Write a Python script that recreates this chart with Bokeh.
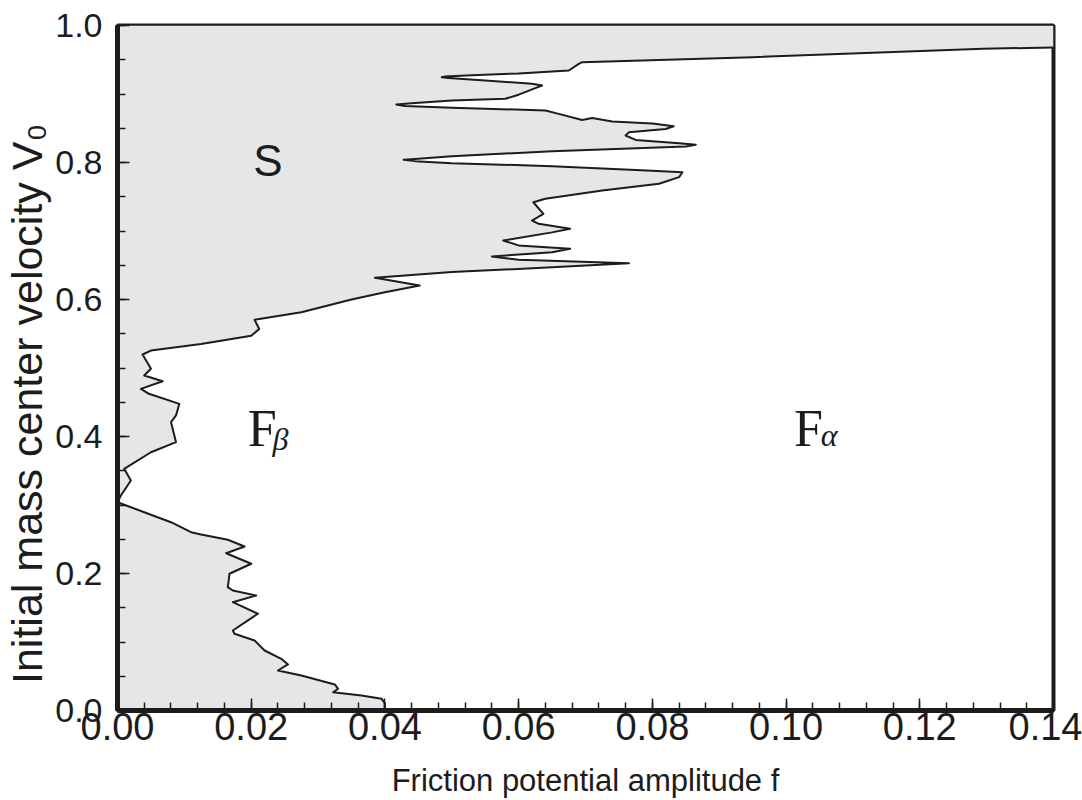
from bokeh.plotting import figure
from bokeh.models import Range1d, SingleIntervalTicker, PrintfTickFormatter
from bokeh.core.properties import value
from bokeh.embed import file_html
from bokeh.resources import INLINE

# Boundary of the stick region S (upper part), from the right edge down to f=0
upper_f = [0.140, 0.1295, 0.095, 0.0695, 0.069, 0.0675, 0.060, 0.053, 0.049, 0.0485,
           0.0495, 0.055, 0.062, 0.0635, 0.0625, 0.060, 0.058, 0.050, 0.044, 0.0417,
           0.043, 0.050, 0.064, 0.066, 0.0695, 0.071, 0.074, 0.080, 0.0832, 0.082,
           0.0765, 0.076, 0.0775, 0.084, 0.0865, 0.085, 0.065, 0.050, 0.0445, 0.0428,
           0.0445, 0.050, 0.065, 0.080, 0.0845, 0.084, 0.081, 0.0725, 0.064, 0.0622,
           0.0637, 0.062, 0.063, 0.0677, 0.065, 0.0577, 0.060, 0.0677, 0.065, 0.056,
           0.060, 0.0765, 0.065, 0.050, 0.0385, 0.0452, 0.040, 0.035, 0.0275, 0.0205,
           0.0212, 0.020, 0.0125, 0.005, 0.00375, 0.005, 0.004, 0.00675, 0.0035, 0.0047,
           0.00925, 0.00875, 0.008, 0.00825, 0.00875, 0.005, 0.001, 0.002, 0.0005, 0.0]
upper_v = [0.968, 0.966, 0.9537, 0.9465, 0.944, 0.9343, 0.930, 0.9275, 0.9255, 0.9245,
           0.9235, 0.9197, 0.915, 0.9124, 0.9085, 0.899, 0.893, 0.8905, 0.8865, 0.8847,
           0.8825, 0.880, 0.876, 0.871, 0.862, 0.865, 0.860, 0.857, 0.853, 0.849,
           0.8443, 0.8394, 0.833, 0.828, 0.826, 0.8234, 0.8165, 0.809, 0.805, 0.804,
           0.802, 0.799, 0.7946, 0.788, 0.7858, 0.7786, 0.769, 0.759, 0.747, 0.742,
           0.725, 0.7153, 0.7105, 0.7032, 0.698, 0.686, 0.679, 0.674, 0.669, 0.6628,
           0.658, 0.653, 0.647, 0.640, 0.6317, 0.6204, 0.6107, 0.600, 0.5815, 0.5704,
           0.557, 0.547, 0.535, 0.5255, 0.5197, 0.499, 0.489, 0.4807, 0.4696, 0.4623,
           0.4477, 0.4307, 0.421, 0.4112, 0.3917, 0.377, 0.3528, 0.3358, 0.3139, 0.304]

# Boundary of the lower stick region, from f=0 down to the f axis
lower_f = [0.0, 0.004, 0.008, 0.011, 0.0125, 0.0165, 0.019, 0.01625, 0.020, 0.01675,
           0.0165, 0.01725, 0.02075, 0.01725, 0.021, 0.01725, 0.0175, 0.0205, 0.022, 0.0245,
           0.0255, 0.024, 0.0275, 0.0325, 0.033, 0.03225, 0.0365, 0.0395, 0.040, 0.040]
lower_v = [0.304, 0.2895, 0.2749, 0.2603, 0.2569, 0.2492, 0.2394, 0.2296, 0.2142, 0.1996,
           0.180, 0.1752, 0.1679, 0.1581, 0.1412, 0.1168, 0.112, 0.1022, 0.0876, 0.0755,
           0.0672, 0.0584, 0.0511, 0.038, 0.0317, 0.0267, 0.0219, 0.0171, 0.0107, 0.0]

x_min, x_max = 0.0, 0.14
y_min, y_max = 0.0, 1.0

x_title = "Friction potential amplitude f"
# trailing no-break spaces shift the centred, rotated title downwards as in the reference
y_title = "Initial mass center velocity V₀" + "\u00a0" * 6

region_S = {"text": "S", "f": 0.0225, "v": 0.803}
region_Fb = {"main": "F", "sub": "β", "f": 0.0195, "fs": 0.0232, "v": 0.4117, "vs": 0.396}
region_Fa = {"main": "F", "sub": "α", "f": 0.1012, "fs": 0.1052, "v": 0.4117, "vs": 0.402}

ink = "#1c1c1c"
fill = "#e6e6e8"

p = figure(width=1082, height=800, output_backend="svg", toolbar_location=None,
           x_range=Range1d(x_min, x_max), y_range=Range1d(y_min, y_max),
           min_border_left=117, min_border_right=29, min_border_top=25, min_border_bottom=90)
p.xgrid.visible = False
p.ygrid.visible = False
p.background_fill_color = "white"
p.border_fill_color = "white"
p.outline_line_color = ink
p.outline_line_width = 4

# shaded stick regions
patch_x = [x_min, x_max] + upper_f + lower_f[1:] + [x_min]
patch_y = [y_max, y_max] + upper_v + lower_v[1:] + [y_min]
p.patch(patch_x, patch_y, fill_color=fill, line_color=None)

line_f = upper_f + lower_f[1:]
line_v = upper_v + lower_v[1:]
p.line(line_f, line_v, line_color=ink, line_width=2.0, line_join="round")

# region labels
p.text(x=[region_S["f"]], y=[region_S["v"]], text=[region_S["text"]],
       text_font=value("Liberation Sans"), text_font_size=value("44px"),
       text_align="center", text_baseline="middle", text_color=ink)
for r in (region_Fb, region_Fa):
    p.text(x=[r["f"]], y=[r["v"]], text=[r["main"]],
           text_font=value("Liberation Serif"), text_font_size=value("52px"),
           text_align="left", text_baseline="middle", text_color=ink)
    p.text(x=[r["fs"]], y=[r["vs"]], text=[r["sub"]],
           text_font=value("Liberation Serif"), text_font_size=value("32px"),
           text_font_style="italic",
           text_align="left", text_baseline="middle", text_color=ink)

# axes
xa = p.xaxis[0]
xa.ticker = SingleIntervalTicker(interval=0.02, num_minor_ticks=5)
xa.formatter = PrintfTickFormatter(format="%.2f")
ya = p.yaxis[0]
ya.ticker = SingleIntervalTicker(interval=0.2, num_minor_ticks=4)
ya.formatter = PrintfTickFormatter(format="%.1f")

for ax in (xa, ya):
    ax.axis_line_color = ink
    ax.axis_line_width = 5
    ax.major_tick_in = 12
    ax.major_tick_out = 0
    ax.minor_tick_in = 8
    ax.minor_tick_out = 0
    ax.major_tick_line_color = ink
    ax.minor_tick_line_color = ink
    ax.major_tick_line_width = 1.5
    ax.minor_tick_line_width = 1.5
    ax.major_label_text_font = "Liberation Sans"
    ax.major_label_text_color = ink
    ax.axis_label_text_font = "Liberation Sans"
    ax.axis_label_text_font_style = "normal"
    ax.axis_label_text_color = ink

xa.axis_label = x_title
xa.major_label_text_font_size = "38px"
xa.axis_label_text_font_size = "31px"
xa.major_label_standoff = 2
xa.axis_label_standoff = 20

ya.axis_label = y_title
ya.major_label_text_font_size = "34px"
ya.axis_label_text_font_size = "43px"
ya.major_label_standoff = 15
ya.axis_label_standoff = 1

open("out.html", "w").write(file_html(p, INLINE))
